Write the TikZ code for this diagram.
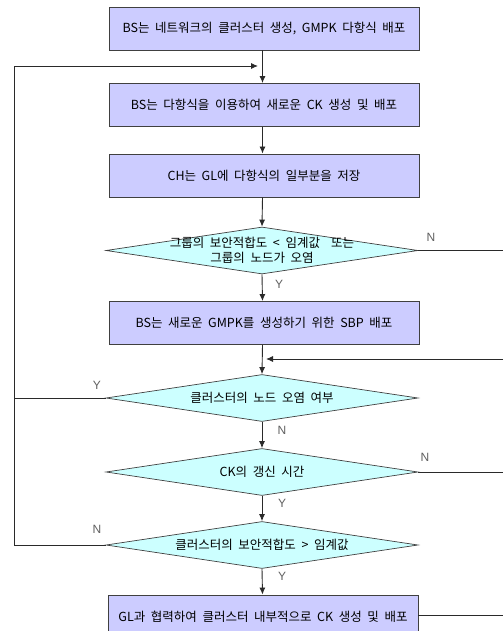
\documentclass[tikz,border=0pt]{standalone}
\usepackage{fontspec}
\setmainfont[WordSpace=2.0]{Noto Sans CJK KR}
\newfontfamily\lblfont{Liberation Sans}
\usetikzlibrary{shapes.geometric,arrows.meta}
\definecolor{boxfill}{HTML}{CCCCFF}
\definecolor{diafill}{HTML}{CCFFFF}
\definecolor{edgecol}{HTML}{404040}
\definecolor{linecol}{HTML}{2A2A2A}
\definecolor{lblcol}{HTML}{606060}
\begin{document}
\begin{tikzpicture}[x=1pt,y=-1pt,
  procbox/.style={draw=edgecol, line width=0.9pt, fill=boxfill, minimum width=310pt, minimum height=43pt, inner sep=0pt, font=\fontsize{12.5}{14}\selectfont},
  decision/.style={diamond, draw=edgecol, line width=0.7pt, fill=diafill, minimum width=312pt, minimum height=47pt, inner sep=0pt},
  dtext/.style={align=center, inner sep=0pt, font=\fontsize{12.5}{15}\selectfont},
  yn/.style={font=\lblfont\fontsize{12}{12}\selectfont, text=lblcol, inner sep=0pt},
  flow/.style={draw=linecol, line width=0.9pt},
  arr/.style={flow, -{Latex[length=7pt,width=6pt]}}
]
\useasboundingbox (0,0) rectangle (503,631);
\clip (0,0) rectangle (503,631);
\fill[white] (0,0) rectangle (503,631);

\node[procbox] (b1) at (264,28.5) {BS는 네트워크의 클러스터 생성, GMPK 다항식 배포};
\node[procbox] (b2) at (264,105) {BS는 다항식을 이용하여 새로운 CK 생성 및 배포};
\node[procbox] (b3) at (264,175.5) {CH는 GL에 다항식의 일부분을 저장};
\node[decision, label={[dtext]center:그룹의 보안적합도 < 임계값~ 또는\\그룹의 노드가 오염}] (d1) at (262,250.5) {};
\node[procbox] (b4) at (264,323) {BS는 새로운 GMPK를 생성하기 위한 SBP 배포};
\node[decision, label={[dtext]center:클러스터의 노드 오염 여부}] (d2) at (262,398) {};
\node[decision, label={[dtext]center:CK의 갱신 시간}] (d3) at (262,472) {};
\node[decision, label={[dtext]center:클러스터의 보안적합도 > 임계값}] (d4) at (262,545) {};
\node[procbox] (b5) at (263,616.5) {GL과 협력하여 클러스터 내부적으로 CK 생성 및 배포};

\coordinate (LT) at (14,66);
\coordinate (loopEnd) at (258,66);
\coordinate (r1) at (503,250.5);
\coordinate (mR) at (503,359);
\coordinate (mL) at (266,359);
\coordinate (r3) at (503,472);
\coordinate (r5) at (503,615);

\draw[arr] (b1.south -| 262.5,0) -- (b2.north -| 262.5,0);
\draw[arr] (b2.south -| 262.5,0) -- (b3.north -| 262.5,0);
\draw[arr] (b3.south -| 262.5,0) -- (d1.north);
\draw[arr] (d1.south) -- (b4.north -| 262.5,0);
\draw[arr] (b4.south -| 262.5,0) -- (d2.north);
\draw[arr] (d2.south) -- (d3.north);
\draw[arr] (d3.south) -- (d4.north);
\draw[arr] (d4.south) -- (b5.north -| 262.5,0);

\draw[arr] (d4.west) -| (LT) -- (loopEnd);
\draw[flow] (d2.west) -- (d2.west -| LT);
\draw[flow] (d1.east) -- (r1);
\draw[arr] (mR) -- (mL);
\draw[flow] (d3.east) -- (r3);
\draw[flow] (b5.east |- r5) -- (r5);

\node[yn] (n1) at (431,237) {N};
\node[yn] (y1) at (279,284) {Y};
\node[yn] (y2) at (97,385) {Y};
\node[yn] (n2) at (282,430) {N};
\node[yn] (n3) at (425,457) {N};
\node[yn] (y3) at (282,503) {Y};
\node[yn] (n4) at (97,529) {N};
\node[yn] (y4) at (282,576) {Y};
\end{tikzpicture}
\end{document}
